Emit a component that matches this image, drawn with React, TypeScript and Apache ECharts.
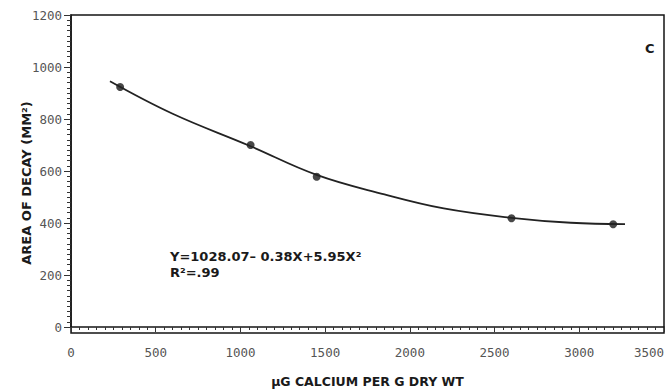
import React, { useEffect, useRef } from "react";
import * as echarts from "echarts";

const pointX = [290, 1060, 1450, 2600, 3200];
const pointY = [923, 700, 578, 418, 395];
const curveX = [230, 600, 1050, 1450, 1850, 2200, 2600, 2950, 3270];
const curveY = [945, 820, 698, 585, 510, 456, 420, 401, 396];
const xTitle = "µG CALCIUM PER G DRY WT";
const yTitle = "AREA OF DECAY (MM²)";
const equation = "Y=1028.07– 0.38X+5.95X²";
const rSquared = "R²=.99";
const panelLabel = "C";

const labelFont = "DejaVu Sans Mono";
const titleFont = "DejaVu Sans";

export default function App() {
  const ref = useRef<HTMLDivElement>(null);
  useEffect(() => {
    if (!ref.current) return;
    const chart = echarts.init(ref.current, null, { renderer: "svg" });
    const lineColor = "#151515";
    const plain = (v: number) => String(v);
    chart.setOption({
      animation: false,
      backgroundColor: "#ffffff",
      grid: { left: 71, right: 6, top: 15, bottom: 63, containLabel: false, outerBoundsMode: "none" },
      xAxis: {
        type: "value",
        min: 0,
        max: 3500,
        interval: 500,
        offset: 6,
        axisLine: { show: true, lineStyle: { color: lineColor, width: 1.5 } },
        axisTick: { show: true, inside: false, length: 5, lineStyle: { color: "#333" } },
        minorTick: { show: true, splitNumber: 10, length: 3, lineStyle: { color: "#333" } },
        splitLine: { show: false },
        axisLabel: {
          margin: 13,
          fontFamily: labelFont,
          fontSize: 12.5,
          color: "#555",
          formatter: plain,
          alignMaxLabel: "right",
        },
        name: xTitle,
        nameLocation: "middle",
        nameGap: 42,
        nameMoveOverlap: false,
        nameTextStyle: { fontFamily: titleFont, fontWeight: "bold", fontSize: 12.5, color: "#1a1a1a" },
      },
      yAxis: {
        type: "value",
        min: 0,
        max: 1200,
        interval: 200,
        axisLine: { show: true, lineStyle: { color: lineColor, width: 1.5 } },
        axisTick: { show: true, length: 7, lineStyle: { color: "#333" } },
        minorTick: { show: true, splitNumber: 10, length: 4, lineStyle: { color: "#333" } },
        axisLabel: { margin: 9, fontFamily: labelFont, fontSize: 12.5, color: "#555", formatter: plain },
        splitLine: { show: false },
        name: yTitle,
        nameLocation: "middle",
        nameGap: 38,
        nameMoveOverlap: false,
        nameTextStyle: {
          fontFamily: titleFont,
          fontWeight: "bold",
          fontSize: 13,
          color: "#1a1a1a",
          padding: [0, 24, 0, 0],
        },
      },
      graphic: [
        {
          type: "rect",
          shape: { x: 71, y: 15, width: 593, height: 318 },
          style: { fill: "none", stroke: lineColor, lineWidth: 1.5 },
          silent: true,
        },
        {
          type: "text",
          left: 170,
          top: 250,
          style: { text: equation, fontFamily: titleFont, fontWeight: "bold", fontSize: 13, fill: "#1a1a1a" },
        },
        {
          type: "text",
          left: 170,
          top: 266,
          style: { text: rSquared, fontFamily: titleFont, fontWeight: "bold", fontSize: 13, fill: "#1a1a1a" },
        },
        {
          type: "text",
          left: 645,
          top: 42,
          style: { text: panelLabel, fontFamily: titleFont, fontWeight: "bold", fontSize: 13, fill: "#1a1a1a" },
        },
      ],
      series: [
        {
          type: "line",
          data: curveX.map((x, i) => [x, curveY[i]]),
          smooth: 0.4,
          showSymbol: false,
          lineStyle: { color: "#222", width: 1.8 },
          silent: true,
        },
        {
          type: "scatter",
          data: pointX.map((x, i) => [x, pointY[i]]),
          symbol: "circle",
          symbolSize: 8,
          itemStyle: { color: "#1a1a1a" },
        },
      ],
    });
    return () => chart.dispose();
  }, []);
  return (
    <div
      ref={ref}
      style={{ position: "fixed", left: 0, top: 0, width: 670, height: 390 }}
    />
  );
}
